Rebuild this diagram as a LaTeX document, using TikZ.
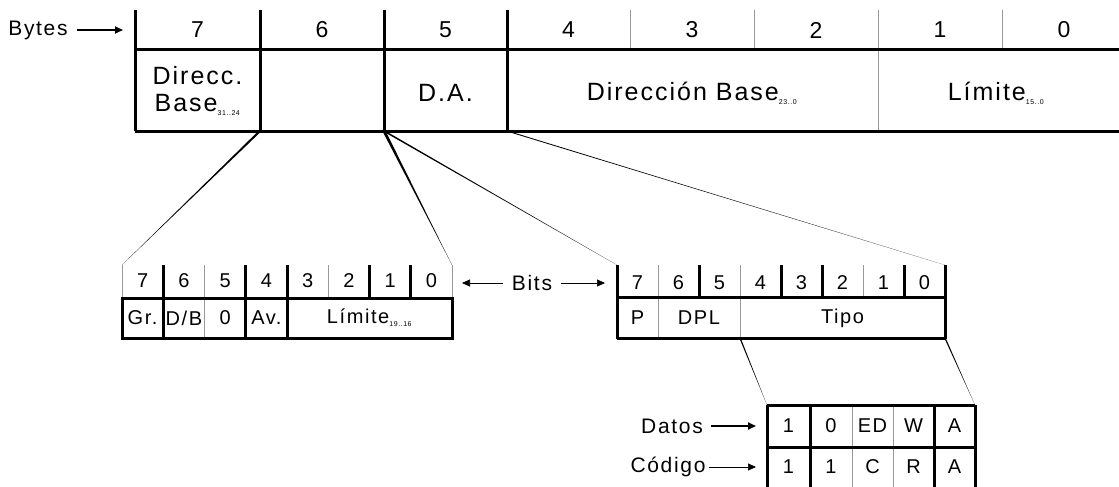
\documentclass[tikz,border=0pt]{standalone}
\usepackage{fontspec}
\setmainfont{Liberation Sans}[LetterSpace=8]
\usepackage{tikz}
\usetikzlibrary{arrows.meta}
\pgfkeys{tikz/heavy/.style={line width=3pt}}
\pgfkeys{tikz/fine/.style={line width=0.8pt, black!40}}
\pgfkeys{tikz/bytenum/.style={font=\fontsize{23}{23}\selectfont, inner sep=0pt}}
\pgfkeys{tikz/bytefield/.style={font=\fontsize{25}{27}\selectfont, inner sep=0pt, align=center}}
\pgfkeys{tikz/bitnum/.style={font=\fontsize{20}{20}\selectfont, inner sep=0pt}}
\pgfkeys{tikz/tag/.style={font=\fontsize{21}{21}\selectfont, inner sep=0pt}}
\pgfkeys{tikz/pointer/.style={-{Triangle[length=8pt,width=7pt]}, line width=#1}}
\newcommand{\fieldsub}[1]{\textsubscript{\fontsize{7}{7}\selectfont #1}}
% wedge shaped connector, wide at the first point
\newcommand{\taper}[3][1.6pt]{\fill ([xshift=-#1]#2) -- ([xshift=#1]#2) -- (#3) -- cycle;}

\begin{document}
\begin{tikzpicture}[x=1pt, y=-1pt]
                \useasboundingbox (0,0) rectangle (1119,487);

                % descriptor bytes
                \node[tag] (bytes) at (38,30) {Bytes};
                \coordinate (bytestip) at (123,30);
                \draw[pointer=1.8pt] (bytes.east) ++(9,0) -- (bytestip);

                \node[bytenum] (b7) at (197.5,30) {7};
                \node[bytenum] (b6) at (322,30) {6};
                \node[bytenum] (b5) at (445.5,30) {5};
                \node[bytenum] (b4) at (568.5,30) {4};
                \node[bytenum] (b3) at (692,30) {3};
                \node[bytenum] (b2) at (816,30) {2};
                \node[bytenum] (b1) at (940,30) {1};
                \node[bytenum] (b0) at (1064,30) {0};

                \draw[heavy] (135,10) -- (135,131);
                \draw[heavy] (260,10) -- (260,131);
                \draw[heavy] (384,10) -- (384,131);
                \draw[heavy] (507,10) -- (507,131);
                \draw[fine] (630,10) -- (630,50);
                \draw[fine] (754,10) -- (754,50);
                \draw[fine] (878,10) -- (878,131);
                \draw[fine] (1002,10) -- (1002,50);
                \draw[heavy] (135,50) -- (1119,50);
                \draw[heavy] (135,131) -- (1119,131);

                \node[bytefield] (base31) at (197.5,91) {Direcc.\\Base\fieldsub{31..24}};
                \node[bytefield] (da) at (445.5,93) {D.A.};
                \node[bytefield] (base23) at (692,93) {Direcci\'on Base\fieldsub{23..0}};
                \node[bytefield] (lim15) at (996,93) {L\'imite\fieldsub{15..0}};

                \coordinate (topA) at (260,131);
                \coordinate (topB) at (384,131);
                \coordinate (topC) at (507,131);

                % byte 6 bits
                \node[bitnum] (l7) at (142.6,281) {7};
                \node[bitnum] (l6) at (183.9,281) {6};
                \node[bitnum] (l5) at (225.1,281) {5};
                \node[bitnum] (l4) at (266.4,281) {4};
                \node[bitnum] (l3) at (307.6,281) {3};
                \node[bitnum] (l2) at (348.9,281) {2};
                \node[bitnum] (l1) at (390.1,281) {1};
                \node[bitnum] (l0) at (431.4,281) {0};

                \draw[fine] (122,265) -- (122,298);
                \draw[heavy] (163.25,265) -- (163.25,338);
                \draw[fine] (204.5,265) -- (204.5,338);
                \draw[heavy] (245.75,265) -- (245.75,338);
                \draw[heavy] (287,265) -- (287,338);
                \draw[fine] (328.25,265) -- (328.25,298);
                \draw[heavy] (369.5,265) -- (369.5,298);
                \draw[heavy] (410.75,265) -- (410.75,298);
                \draw[fine] (452,265) -- (452,298);
                \draw[heavy] (122,298) rectangle (452,338);

                \node[bitnum] (gr) at (142.6,318) {Gr.};
                \node[bitnum] (db) at (183.9,318) {D/B};
                \node[bitnum] (zero) at (225.1,318) {0};
                \node[bitnum] (av) at (266.4,318) {Av.};
                \node[bitnum] (lim19) at (369.5,318) {L\'imite\fieldsub{19..16}};

                \coordinate (lbl) at (122,265);
                \coordinate (lbr) at (452,265);

                % bits label between the two
                \node[tag] (bits) at (532,283) {Bits};
                \coordinate (bitsl) at (462,283);
                \coordinate (bitsr) at (605,283);
                \draw[pointer=0.7pt] (bits.west) ++(-9,0) -- (bitsl);
                \draw[pointer=0.7pt] (bits.east) ++(9,0) -- (bitsr);

                % byte 5 bits
                \node[bitnum] (r7) at (637.5,283) {7};
                \node[bitnum] (r6) at (678.5,283) {6};
                \node[bitnum] (r5) at (719.5,283) {5};
                \node[bitnum] (r4) at (760.5,283) {4};
                \node[bitnum] (r3) at (801.5,283) {3};
                \node[bitnum] (r2) at (842.5,283) {2};
                \node[bitnum] (r1) at (883.5,283) {1};
                \node[bitnum] (r0) at (924.5,283) {0};

                \draw[heavy] (617,265) -- (617,339);
                \draw[fine] (658,265) -- (658,338);
                \draw[heavy] (699,265) -- (699,297);
                \draw[fine] (740,265) -- (740,338);
                \draw[heavy] (781,265) -- (781,297);
                \draw[heavy] (822,265) -- (822,297);
                \draw[fine] (863,265) -- (863,297);
                \draw[heavy] (904,265) -- (904,297);
                \draw[heavy] (945,265) -- (945,339);
                \draw[heavy] (617,297) -- (945,297);
                \draw[heavy] (617,338) -- (945,338);

                \node[bitnum] (p) at (637.5,318) {P};
                \node[bitnum] (dpl) at (699,318) {DPL};
                \node[bitnum] (tipo) at (842.5,318) {Tipo};

                \coordinate (rbl) at (617,265);
                \coordinate (rbr) at (945,265);
                \coordinate (tipoA) at (740,338);
                \coordinate (tipoB) at (945,338);

                % type field
                \node[tag] (datos) at (672,426) {Datos};
                \node[tag] (codigo) at (668,467) {C\'odigo};
                \coordinate (datostip) at (756,426);
                \coordinate (codigotip) at (756,467);
                \draw[pointer=1.8pt] (datos.east) ++(8,0) -- (datostip);
                \draw[pointer=0.7pt] (codigo.east) ++(3,0) -- (codigotip);

                \draw[heavy] (767,405) -- (767,487);
                \draw[heavy] (810,405) -- (810,487);
                \draw[fine] (852,405) -- (852,487);
                \draw[fine] (893,405) -- (893,487);
                \draw[heavy] (934,405) -- (934,487);
                \draw[heavy] (975,405) -- (975,487);
                \draw[heavy] (767,405) -- (975,405);
                \draw[heavy] (767,447) -- (975,447);

                \node[bitnum] (d1) at (788.5,426) {1};
                \node[bitnum] (d2) at (831,426) {0};
                \node[bitnum] (d3) at (872.5,426) {ED};
                \node[bitnum] (d4) at (913.5,426) {W};
                \node[bitnum] (d5) at (954.5,426) {A};
                \node[bitnum] (c1) at (788.5,467) {1};
                \node[bitnum] (c2) at (831,467) {1};
                \node[bitnum] (c3) at (872.5,467) {C};
                \node[bitnum] (c4) at (913.5,467) {R};
                \node[bitnum] (c5) at (954.5,467) {A};

                \coordinate (dl) at (767,405);
                \coordinate (dr) at (975,405);

                % zoom lines
                \taper{topA}{lbl}
                \taper{topB}{lbr}
                \taper{topB}{rbl}
                \taper{topC}{rbr}
                \taper[0.7pt]{tipoA}{dl}
                \taper[0.7pt]{tipoB}{dr}

            \end{tikzpicture}
\end{document}
